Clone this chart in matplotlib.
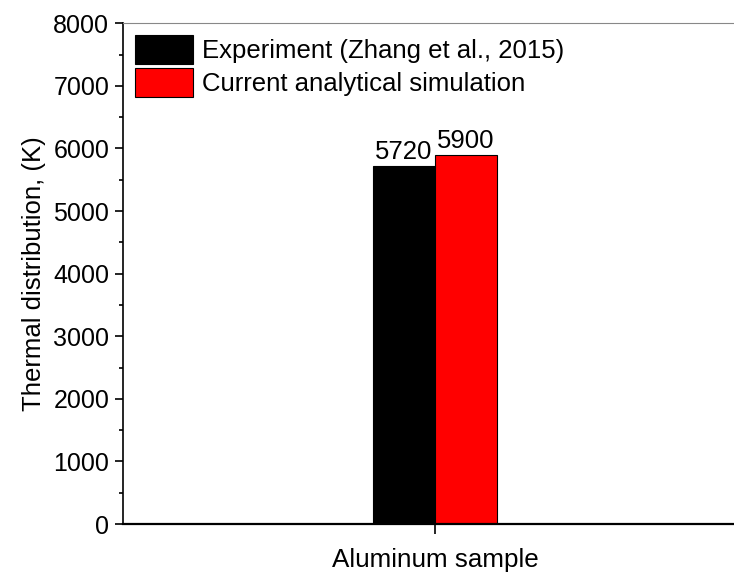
import matplotlib.pyplot as plt

plt.rcParams['font.family'] = ['Liberation Sans', 'DejaVu Sans']

sample = 'Aluminum sample'
series = ['Experiment (Zhang et al., 2015)', 'Current analytical simulation']
values = [5720, 5900]
colors = ['black', 'red']
yticks = [0, 1000, 2000, 3000, 4000, 5000, 6000, 7000, 8000]


def plot_bars():
    fig = plt.figure(figsize=(7.34, 5.73), dpi=100)
    ax = fig.add_axes([0.1676, 0.0855, 0.850, 0.874])

    width = 0.2
    offsets = [-width / 2, width / 2]
    for name, val, col, off in zip(series, values, colors, offsets):
        bars = ax.bar(off, val, width, color=col, edgecolor='black',
                      linewidth=0.8, label=name)
        ax.bar_label(bars, labels=[str(val)], padding=1.5, fontsize=18.5)

    ax.set_xlim(-1, 1)
    ax.set_ylim(0, 8000)
    ax.set_xticks([0])
    ax.set_xticklabels([''])
    ax.set_yticks(yticks)
    ax.set_yticks(range(500, 8000, 1000), minor=True)
    ax.tick_params(axis='y', which='major', direction='out', length=6,
                   width=1.2, labelsize=18, pad=4)
    ax.tick_params(axis='y', which='minor', direction='out', length=3,
                   width=1.2)
    ax.tick_params(axis='x', which='major', direction='out', length=7,
                   width=1.2)

    ax.spines['left'].set_linewidth(1.2)
    ax.spines['bottom'].set_linewidth(1.6)
    ax.spines['top'].set_color('#888888')
    ax.spines['top'].set_linewidth(0.8)
    ax.spines['right'].set_visible(False)

    ax.set_ylabel('Thermal distribution, (K)', fontsize=18.5, labelpad=5)
    ax.set_xlabel(sample, fontsize=18.7, labelpad=7)

    ax.legend(loc='upper left', bbox_to_anchor=(0.013, 0.984),
              frameon=False, fontsize=18.5,
              handlelength=2.26, handleheight=1.35, handletextpad=0.35,
              labelspacing=0.16, borderaxespad=0.0, borderpad=0.15)

    fig.savefig('out.png', dpi=100)


if __name__ == '__main__':
    plot_bars()
